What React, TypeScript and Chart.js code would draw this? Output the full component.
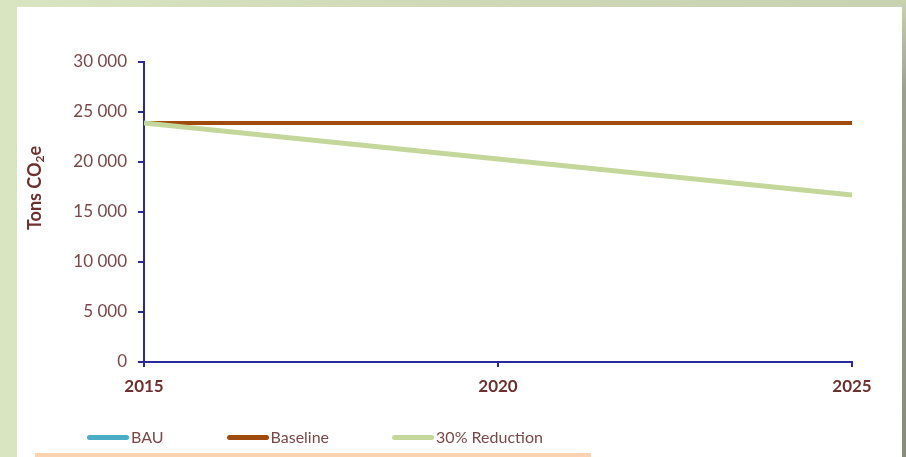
import React, { useEffect, useRef } from "react";
import { Chart, registerables } from "chart.js";

Chart.register(...registerables);

const years = [2015, 2020, 2025];
const bauValues: number[] = [];
const baselineValues = [23900, 23900, 23900];
const reductionValues = [23900, 20300, 16700];
const seriesNames = ["BAU", "Baseline", "30% Reduction"];
const seriesColors = ["#4bacc6", "#a04b0e", "#c4d79b"];
const yTickStep = 5000;
const yMax = 30000;
const axisTitle = { main: "Tons CO", sub: "2", tail: "e" };

const tickColor = "#7a4848";
const xTickColor = "#6e2f2f";
const axisColor = "#2a2a9c";
const FONT = "Lato, 'Open Sans', sans-serif";

function fmtThousands(v: number): string {
  return String(v).replace(/\B(?=(\d{3})+(?!\d))/g, " ");
}

const titlePlugin = {
  id: "yTitle",
  afterDraw(chart: any) {
    const ctx = chart.ctx;
    const area = chart.chartArea;
    ctx.save();
    ctx.translate(35, area.top + (area.bottom - area.top) * 0.42);
    ctx.rotate(-Math.PI / 2);
    ctx.fillStyle = "#6e2f2f";
    ctx.textBaseline = "middle";
    const big = `bold 18px ${FONT}`;
    const small = `bold 12px ${FONT}`;
    ctx.font = big;
    const w1 = ctx.measureText(axisTitle.main).width;
    const w3 = ctx.measureText(axisTitle.tail).width;
    ctx.font = small;
    const w2 = ctx.measureText(axisTitle.sub).width;
    const total = w1 + w2 + w3;
    let x = -total / 2;
    ctx.font = big;
    ctx.textAlign = "left";
    ctx.fillText(axisTitle.main, x, 0);
    x += w1;
    ctx.font = small;
    ctx.fillText(axisTitle.sub, x, 5);
    x += w2;
    ctx.font = big;
    ctx.fillText(axisTitle.tail, x, 0);
    ctx.restore();
  },
};

export default function App() {
  const canvasRef = useRef<HTMLCanvasElement | null>(null);

  useEffect(() => {
    document.body.style.margin = "0";
    const toPts = (vals: number[]) => vals.map((y, i) => ({ x: years[i], y }));
    const chart = new Chart(canvasRef.current as HTMLCanvasElement, {
      type: "line",
      data: {
        datasets: [
          {
            label: seriesNames[0],
            data: toPts(bauValues),
            borderColor: seriesColors[0],
            borderWidth: 4,
            pointRadius: 0,
            order: 3,
          },
          {
            label: seriesNames[1],
            data: toPts(baselineValues),
            borderColor: seriesColors[1],
            borderWidth: 4,
            pointRadius: 0,
            order: 2,
          },
          {
            label: seriesNames[2],
            data: toPts(reductionValues),
            borderColor: seriesColors[2],
            borderWidth: 5,
            pointRadius: 0,
            order: 1,
          },
        ],
      },
      options: {
        animation: false,
        responsive: false,
        maintainAspectRatio: false,
        layout: { padding: { top: 62, right: 54, left: 0, bottom: 0 } },
        plugins: {
          legend: { display: false },
          tooltip: { enabled: false },
        },
        scales: {
          x: {
            type: "linear",
            min: years[0],
            max: years[years.length - 1],
            afterFit: (s: any) => {
              s.height = 95;
            },
            ticks: {
              stepSize: 5,
              callback: (v: any) => String(v),
              color: xTickColor,
              font: { family: FONT, size: 17, weight: "bold" },
              padding: 9,
              maxRotation: 0,
            },
            grid: {
              drawOnChartArea: false,
              drawTicks: true,
              tickLength: 5,
              color: axisColor,
              lineWidth: 2,
            },
            border: { color: axisColor, width: 2 },
          },
          y: {
            min: 0,
            max: yMax,
            afterFit: (s: any) => {
              s.width = 144;
            },
            ticks: {
              stepSize: yTickStep,
              callback: (v: any) => fmtThousands(Number(v)),
              color: tickColor,
              font: { family: FONT, size: 17 },
              padding: 11,
            },
            grid: {
              drawOnChartArea: false,
              drawTicks: true,
              tickLength: 6,
              color: axisColor,
              lineWidth: 2,
            },
            border: { color: axisColor, width: 2 },
          },
        },
      },
      plugins: [titlePlugin],
    } as any);
    return () => chart.destroy();
  }, []);

  return (
    <div
      style={{
        position: "absolute",
        left: 0,
        top: 0,
        width: 906,
        height: 457,
        overflow: "hidden",
        background: "linear-gradient(90deg, #d9e4c1 0%, #cfd9b6 50%, #c8d1b0 100%)",
      }}
    >
      <div
        style={{
          position: "absolute",
          right: 0,
          top: 0,
          width: 5,
          height: 457,
          background: "linear-gradient(180deg, #c9d2b1 0%, #9aa189 20%, #868c76 100%)",
        }}
      />
      <div
        style={{
          position: "absolute",
          left: 17,
          top: 7,
          width: 885,
          height: 450,
          background: "#ffffff",
        }}
      />
      <canvas
        ref={canvasRef}
        width={906}
        height={457}
        style={{ position: "absolute", left: 0, top: 0, width: 906, height: 457 }}
      />
      <div
        style={{
          position: "absolute",
          left: 87,
          top: 427,
          display: "flex",
          alignItems: "center",
          fontFamily: FONT,
          fontSize: 16,
          color: tickColor,
          lineHeight: "20px",
        }}
      >
        {seriesNames.map((n, i) => (
          <div key={n} style={{ display: "flex", alignItems: "center", marginRight: 63 }}>
            <div
              style={{
                width: 42,
                height: 5,
                borderRadius: 3,
                background: seriesColors[i],
                marginRight: 2,
              }}
            />
            <span>{n}</span>
          </div>
        ))}
      </div>
      <div
        style={{
          position: "absolute",
          left: 35,
          top: 453,
          width: 556,
          height: 4,
          background: "#fcd3b0",
        }}
      />
    </div>
  );
}
